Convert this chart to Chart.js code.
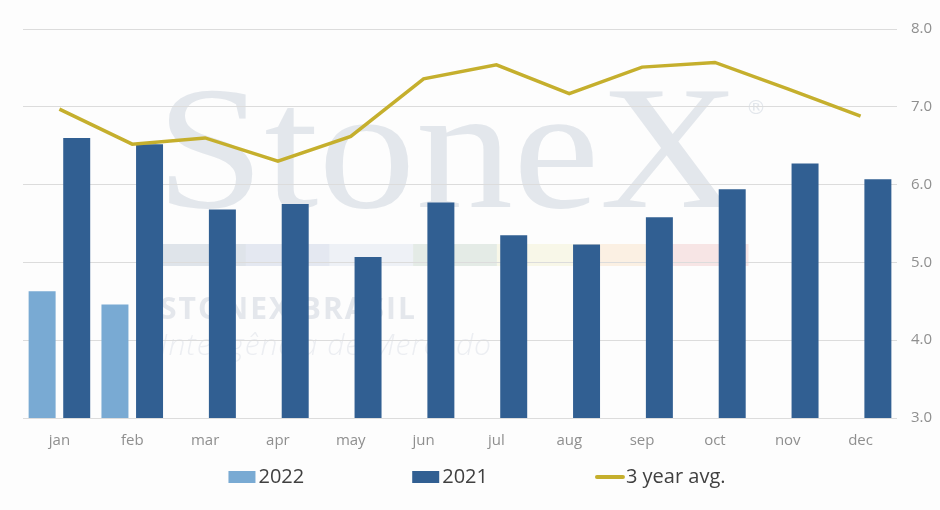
<!DOCTYPE html>
<html>
<head>
<meta charset="utf-8">
<script src="https://cdn.jsdelivr.net/npm/chart.js@4.4.1/dist/chart.umd.min.js"></script>
<style>
  html, body { margin: 0; padding: 0; background: #fdfdfd; }
  #wrap { width: 940px; height: 510px; position: relative; }
</style>
</head>
<body>
<div id="wrap"><canvas id="chart1"></canvas></div>
<script>
// data
const months = ['jan', 'feb', 'mar', 'apr', 'may', 'jun', 'jul', 'aug', 'sep', 'oct', 'nov', 'dec'];
const values2022 = [4.63, 4.46, null, null, null, null, null, null, null, null, null, null];
const values2021 = [6.60, 6.52, 5.68, 5.75, 5.07, 5.77, 5.35, 5.23, 5.58, 5.94, 6.27, 6.07];
const avg3y = [6.97, 6.52, 6.60, 6.30, 6.62, 7.36, 7.54, 7.17, 7.51, 7.57, 7.23, 6.88];
const yMin = 3, yMax = 8, yStep = 1;

const seriesNames = ['2022', '2021', '3 year avg.'];
const colors = ['#79AAD3', '#315F92', '#C5AF2D'];

// faint StoneX watermark behind the plot
const watermark = {
    id: 'watermark',
    beforeDraw(chart) {
        const c = chart.ctx;
        c.save();
        c.fillStyle = '#fdfdfd';
        c.fillRect(0, 0, chart.width, chart.height);
        // big serif word
        c.font = '175px "Liberation Serif"';
        c.fillStyle = '#e3e7ec';
        c.textBaseline = 'alphabetic';
        const w = c.measureText('StoneX').width;
        c.save();
        c.translate(156, 207);
        c.scale(584 / w, 1);
        c.fillText('StoneX', 0, 0);
        c.restore();
        c.font = '20px "DejaVu Sans"';
        c.fillText('®', 746, 114);
        // colour stripe
        const stripe = ['#dfe4ea', '#e4e8f1', '#eef1f6', '#e4ebe6', '#f8f7e8', '#fbf0e3', '#f7e5e5'];
        const sx = 162, sw = (748 - 162) / stripe.length;
        stripe.forEach((col, i) => {
            c.fillStyle = col;
            c.fillRect(sx + i * sw, 244, sw + 0.5, 22);
        });
        c.fillStyle = '#e4e7ec';
        c.font = 'bold 30px "Open Sans"';
        c.textBaseline = 'middle';
        if ('letterSpacing' in c) c.letterSpacing = '2px';
        c.fillText('STONEX BRASIL', 160, 310);
        if ('letterSpacing' in c) c.letterSpacing = '1px';
        c.fillStyle = '#eceef2';
        c.font = 'italic 300 30px "Open Sans"';
        c.fillText('Inteligência de Mercado', 160, 346);
        c.restore();
    }
};

// legend drawn by hand so the items can sit far apart
const wideLegend = {
    id: 'wideLegend',
    afterDraw(chart) {
        const c = chart.ctx;
        const items = chart.data.datasets.map(ds => ({ text: ds.label, type: ds.type || 'bar', color: ds.borderColor || ds.backgroundColor }));
        c.save();
        c.font = '20px "Open Sans"';
        c.textBaseline = 'middle';
        const boxW = 27, gapText = 3, gapItem = 108;
        let total = 0;
        items.forEach((it, i) => {
            it.w = boxW + gapText + c.measureText(it.text).width;
            total += it.w + (i ? gapItem : 0);
        });
        let x = 477 - total / 2;
        const y = 477;
        items.forEach(it => {
            if (it.type === 'line') {
                c.strokeStyle = it.color;
                c.lineWidth = 4;
                c.lineCap = 'round';
                c.beginPath();
                c.moveTo(x + 1, y);
                c.lineTo(x + boxW, y);
                c.stroke();
            } else {
                c.fillStyle = it.color;
                c.fillRect(x, y - 6, boxW, 12);
            }
            c.fillStyle = '#404040';
            c.fillText(it.text, x + boxW + gapText, y);
            x += it.w + gapItem;
        });
        c.restore();
    }
};

const ctx = document.getElementById('chart1');
const data = {
    labels: months,
    datasets: [{
        label: seriesNames[0],
        data: values2022,
        backgroundColor: colors[0],
        order: 1
    }, {
        label: seriesNames[1],
        data: values2021,
        backgroundColor: colors[1],
        order: 1
    }, {
        type: 'line',
        label: seriesNames[2],
        data: avg3y,
        borderColor: colors[2],
        backgroundColor: colors[2],
        borderWidth: 3.5,
        pointRadius: 0,
        tension: 0,
        order: 0
    }]
};
const config = {
    type: 'bar',
    data: data,
    options: {
        responsive: true,
        maintainAspectRatio: false,
        animation: false,
        devicePixelRatio: 1,
        layout: { padding: { left: 23, right: 0, top: 29, bottom: 46 } },
        datasets: {
            bar: { categoryPercentage: 0.95, barPercentage: 0.78 }
        },
        scales: {
            x: {
                grid: { display: false, drawTicks: false },
                border: { display: false },
                ticks: { color: '#8f8f8f', font: { family: 'Open Sans', size: 15 }, padding: 14 }
            },
            y: {
                position: 'right',
                min: yMin,
                max: yMax,
                afterFit: scale => { scale.width = 43; },
                grid: { color: '#dcdcdc', lineWidth: 1, drawTicks: false },
                border: { display: false },
                ticks: {
                    stepSize: yStep,
                    color: '#8f8f8f',
                    font: { family: 'Open Sans', size: 15 },
                    padding: 14,
                    callback: v => v.toFixed(1)
                }
            }
        },
        plugins: {
            legend: { display: false },
            tooltip: { enabled: false }
        }
    },
    plugins: [watermark, wideLegend]
};
const chart = new Chart(ctx, config);
</script>
</body>
</html>
